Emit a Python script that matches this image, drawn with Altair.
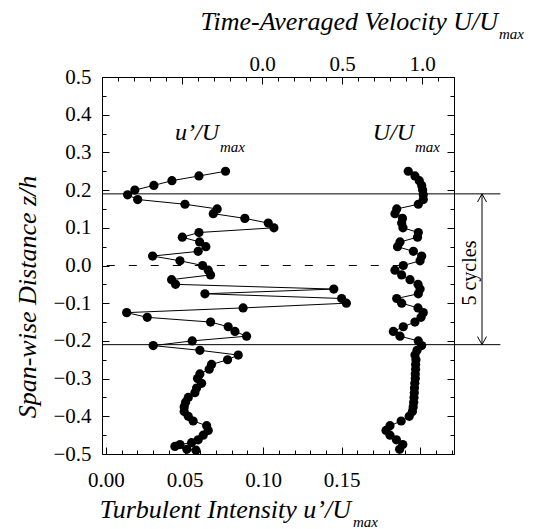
import altair as alt
import pandas as pd

FONT = "Liberation Serif, Times New Roman, DejaVu Serif, serif"

# ---------------- data ----------------
# turbulent intensity u'/Umax (bottom axis) vs span-wise distance z/h
z_turb = [0.25, 0.2375, 0.225, 0.2125, 0.2, 0.1875, 0.175, 0.1625, 0.15, 0.1375,
          0.125, 0.1125, 0.1, 0.0875, 0.075, 0.0625, 0.05, 0.0375, 0.025, 0.0125,
          0.0, -0.0125, -0.025, -0.0375, -0.05, -0.0625, -0.075, -0.0875, -0.1, -0.1125,
          -0.125, -0.1375, -0.15, -0.1625, -0.175, -0.1875, -0.2, -0.2125, -0.225, -0.2375,
          -0.25, -0.2625, -0.275, -0.2875, -0.3, -0.3125, -0.325, -0.3375, -0.35, -0.3625,
          -0.375, -0.3875, -0.4, -0.4125, -0.425, -0.4375, -0.45, -0.4625, -0.47, -0.475,
          -0.48, -0.4875, -0.49]
turb = [0.0761, 0.0592, 0.042, 0.0305, 0.0184, 0.0138, 0.0202, 0.0503, 0.0708, 0.0683,
        0.0884, 0.1033, 0.1069, 0.0592, 0.0486, 0.0596, 0.0636, 0.0587, 0.0297, 0.0471,
        0.0615, 0.0651, 0.0666, 0.0418, 0.0443, 0.145, 0.063, 0.150, 0.153, 0.0873,
        0.0132, 0.0263, 0.0666, 0.0778, 0.0821, 0.0895, 0.0549, 0.0301, 0.0598, 0.0842,
        0.0774, 0.0672, 0.0657, 0.0598, 0.0583, 0.0609, 0.0577, 0.0566, 0.0524, 0.0507,
        0.0498, 0.0498, 0.0524, 0.0555, 0.0641, 0.0651, 0.0619, 0.0587, 0.0545, 0.0471,
        0.0439, 0.0515, 0.0573]

# time-averaged velocity U/Umax (top axis) vs span-wise distance z/h
z_vel = [0.25, 0.2375, 0.225, 0.2125, 0.2, 0.1875, 0.175, 0.1625, 0.15, 0.1375,
         0.125, 0.1125, 0.1, 0.0875, 0.075, 0.0625, 0.05, 0.0375, 0.025, 0.0125,
         0.0, -0.0125, -0.025, -0.0375, -0.05, -0.0625, -0.075, -0.0875, -0.1, -0.1125,
         -0.125, -0.1375, -0.15, -0.1625, -0.175, -0.1875, -0.2, -0.2125, -0.225, -0.2375,
         -0.25, -0.2625, -0.275, -0.2875, -0.3, -0.3125, -0.325, -0.3375, -0.35, -0.3625,
         -0.375, -0.3875, -0.4, -0.4125, -0.425, -0.4375, -0.45, -0.4625, -0.475, -0.4875]
vel = [0.914, 0.956, 0.983, 0.998, 1.004, 1.008, 1.008, 0.977, 0.842, 0.831,
       0.878, 0.873, 0.881, 0.977, 0.972, 0.8625, 0.847, 0.946, 0.998, 0.988,
       0.883, 0.831, 0.873, 0.925, 0.975, 0.988, 0.977, 0.842, 0.873, 0.975,
       1.008, 0.994, 0.956, 0.883, 0.821, 0.8625, 0.977, 0.998, 0.969, 0.956,
       0.962, 0.96, 0.96, 0.958, 0.958, 0.955, 0.953, 0.952, 0.95, 0.948,
       0.945, 0.94, 0.92, 0.87, 0.80, 0.775, 0.80, 0.84, 0.88, 0.86]

# axis ticks / labels
y_label_values = [-0.5, -0.4, -0.3, -0.2, -0.1, 0.0, 0.1, 0.2, 0.3, 0.4, 0.5]
y_tick_values = [-0.5, -0.45, -0.4, -0.35, -0.3, -0.25, -0.2, -0.15, -0.1, -0.05, 0.0,
                 0.05, 0.1, 0.15, 0.2, 0.25, 0.3, 0.35, 0.4, 0.45, 0.5]
bottom_label_values = [0.0, 0.05, 0.10, 0.15]
bottom_tick_values = [0.0, 0.01, 0.02, 0.03, 0.04, 0.05, 0.06, 0.07, 0.08, 0.09, 0.10,
                      0.11, 0.12, 0.13, 0.14, 0.15, 0.16, 0.17, 0.18, 0.19, 0.20, 0.21, 0.22]
top_label_values = [0.0, 0.5, 1.0]
top_tick_values = [-1.0, -0.9, -0.8, -0.7, -0.6, -0.5, -0.4, -0.3, -0.2, -0.1, 0.0,
                   0.1, 0.2, 0.3, 0.4, 0.5, 0.6, 0.7, 0.8, 0.9, 1.0, 1.1, 1.2]

# region of 5 cycles (z/h)
cycle_bounds = [0.19, -0.21]
centre_line = [0.0]

# ---------------- layout ----------------
W, H = 352, 377
BOT = alt.Scale(domain=[-0.0025, 0.2215], nice=False, zero=False)
TOP = alt.Scale(domain=[-1.0, 1.2], nice=False, zero=False)
YS = alt.Scale(domain=[-0.5, 0.5], nice=False, zero=False)

turb_df = pd.DataFrame({"z": z_turb, "v": turb, "i": range(len(turb))})
vel_df = pd.DataFrame({"z": z_vel, "v": vel, "i": range(len(vel))})
bounds_df = pd.DataFrame({"z": cycle_bounds, "x1": [-1.0, -1.0], "x2": [1.49, 1.49]})
centre_df = pd.DataFrame({"z": centre_line, "x1": [-0.97], "x2": [0.86]})
arrow_df = pd.DataFrame({"z1": [cycle_bounds[0]], "z2": [cycle_bounds[1]], "x": [1.375]})

common_axis = dict(grid=False, labelFont=FONT, labelFontSize=21, labelColor="black",
                   tickColor="black", tickWidth=1, domain=False, labelFlush=False,
                   labelOverlap=False, title=None)


def tick_axis(orient, offset, values, test):
    return alt.Axis(orient=orient, offset=offset, values=values, labels=False,
                    tickSize={"condition": {"test": test, "value": 7}, "value": 4},
                    **common_axis)


Y_MAJOR = "abs(round(datum.value*100)) % 10 == 0"
B_MAJOR = "abs(round(datum.value*100)) % 5 == 0"
T_MAJOR = "abs(round(datum.value*10)) % 5 == 0"

# layer 1: turbulent intensity line + bottom labels + left labels
turb_line = alt.Chart(turb_df).mark_line(color="black", strokeWidth=1).encode(
    x=alt.X("v:Q", scale=BOT, axis=alt.Axis(orient="bottom", values=bottom_label_values,
                                            format=".2f", ticks=False, labelPadding=15,
                                            **common_axis)),
    y=alt.Y("z:Q", scale=YS, axis=alt.Axis(orient="left", values=y_label_values,
                                           format=".1f", ticks=False, labelPadding=11,
                                           **common_axis)),
    order="i:Q",
)
# layer 2: turbulent intensity points + inward bottom ticks + inward left ticks
turb_pts = alt.Chart(turb_df).mark_circle(color="black", size=85, opacity=1).encode(
    x=alt.X("v:Q", scale=BOT, axis=tick_axis("top", -H, bottom_tick_values, B_MAJOR)),
    y=alt.Y("z:Q", scale=YS, axis=tick_axis("right", -W, y_tick_values, Y_MAJOR)),
)
# layer 3: velocity line + top labels + inward right ticks
vel_line = alt.Chart(vel_df).mark_line(color="black", strokeWidth=1).encode(
    x=alt.X("v:Q", scale=TOP, axis=alt.Axis(orient="top", values=top_label_values,
                                            format=".1f", ticks=False, labelPadding=3,
                                            **common_axis)),
    y=alt.Y("z:Q", scale=YS, axis=tick_axis("left", -W, y_tick_values, Y_MAJOR)),
    order="i:Q",
)
# layer 4: velocity points + inward top ticks
vel_pts = alt.Chart(vel_df).mark_circle(color="black", size=85, opacity=1).encode(
    x=alt.X("v:Q", scale=TOP, axis=tick_axis("bottom", -H, top_tick_values, T_MAJOR)),
    y=alt.Y("z:Q", scale=YS, axis=None),
)

bounds = alt.Chart(bounds_df).mark_rule(color="black", strokeWidth=1).encode(
    x=alt.X("x1:Q", scale=TOP, axis=None), x2="x2:Q",
    y=alt.Y("z:Q", scale=YS, axis=None))
centre = alt.Chart(centre_df).mark_rule(color="black", strokeWidth=1,
                                         strokeDash=[8, 14]).encode(
    x=alt.X("x1:Q", scale=TOP, axis=None), x2="x2:Q",
    y=alt.Y("z:Q", scale=YS, axis=None))
arrow_line = alt.Chart(arrow_df).mark_rule(color="black", strokeWidth=1).encode(
    x=alt.X("x:Q", scale=TOP, axis=None),
    y=alt.Y("z1:Q", scale=YS, axis=None), y2="z2:Q")
head_up = alt.Chart(arrow_df).mark_point(shape="M-1,1.8L0,0L1,1.8", filled=False,
                                         color="black", size=81, strokeWidth=1,
                                         opacity=1).encode(
    x=alt.X("x:Q", scale=TOP, axis=None), y=alt.Y("z1:Q", scale=YS, axis=None))
head_down = alt.Chart(arrow_df).mark_point(shape="M-1,-1.8L0,0L1,-1.8", filled=False,
                                           color="black", size=81, strokeWidth=1,
                                           opacity=1).encode(
    x=alt.X("x:Q", scale=TOP, axis=None), y=alt.Y("z2:Q", scale=YS, axis=None))
cycles_text = alt.Chart(pd.DataFrame({"t": ["5 cycles"], "x": [1.3], "z": [-0.02]})).mark_text(
    font=FONT, fontSize=20, angle=270, align="center", baseline="middle", color="black"
).encode(x=alt.X("x:Q", scale=TOP, axis=None), y=alt.Y("z:Q", scale=YS, axis=None),
         text="t:N")


def label(text, x, y, size, align="left", angle=0, baseline="alphabetic"):
    return alt.Chart(pd.DataFrame({"t": [text]})).mark_text(
        font=FONT, fontSize=size, fontStyle="italic", align=align, baseline=baseline,
        angle=angle, color="black"
    ).encode(x=alt.value(x), y=alt.value(y), text="t:N")


texts = [
    label("Time-Averaged Velocity U/U", 396, -47, 26, align="right"),
    label("max", 397, -38, 15),
    label("Turbulent Intensity u\u2019/U", 249, 441, 26, align="right"),
    label("max", 251, 450, 15),
    label("Span-wise Distance  z/h", -74, 220, 26, align="center", angle=270,
          baseline="middle"),
    label("u\u2019/U", 117, 63, 24, align="right"),
    label("max", 118, 75, 15),
    label("U/U", 312, 63, 24, align="right"),
    label("max", 313, 75, 15),
]

chart = alt.layer(
    turb_line, turb_pts, vel_line, vel_pts, bounds, centre, arrow_line, head_up,
    head_down, cycles_text, *texts
).resolve_scale(x="independent", y="independent").properties(
    width=W, height=H,
    autosize=alt.AutoSizeParams(type="none"),
    padding={"left": 102, "top": 77, "right": 85, "bottom": 75},
    background="white",
).configure_view(stroke="black", strokeWidth=1)

chart.save("out.html", embed_options={"renderer": "svg", "actions": False})
